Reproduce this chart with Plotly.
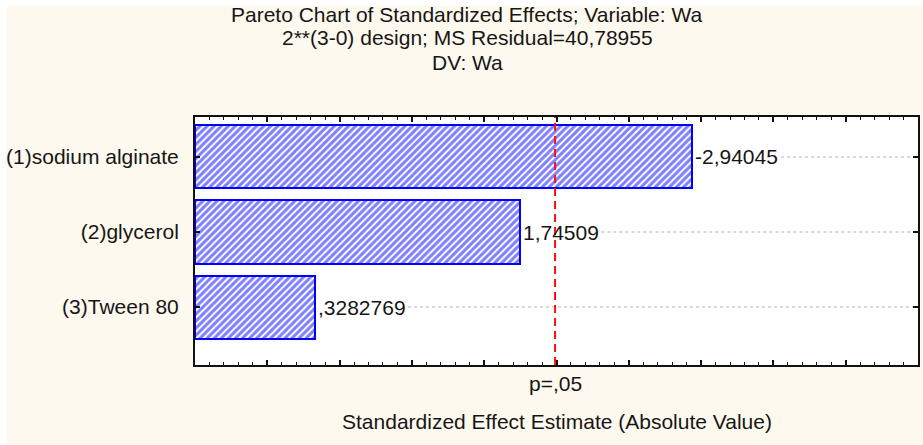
import plotly.graph_objects as go

# Pareto chart of standardized effects (Statistica style)
factors = ["(1)sodium alginate", "(2)glycerol", "(3)Tween 80"]
effects = [-2.94045, 1.74509, 0.3282769]
crit_value = 1.99          # t critical value at p = .05
crit_label = "p=,05"

title_lines = [
    "Pareto Chart of Standardized Effects; Variable: Wa",
    "2**(3-0) design; MS Residual=40,78955",
    "DV: Wa",
]
x_title = "Standardized Effect Estimate (Absolute Value)"

X_MIN, X_MAX = -0.5, 4.5
Y_TOP, Y_BOTTOM = -0.533, 2.773

W, H = 923, 445
M_L, M_R, M_T, M_B = 195, 3, 117, 80
PLOT_W = W - M_L - M_R
PLOT_H = H - M_T - M_B

FONT = "Liberation Sans, Arial, sans-serif"
FS = 21
TXT = "#161616"
CREAM = "#fef9ee"
BLUE = "#0000ff"

ypos = list(range(len(factors)))
abs_eff = [abs(v) for v in effects]


def fmt(v):
    s = repr(v).replace(".", ",")
    if s.startswith("0,"):
        s = s[1:]
    return s


labels = [fmt(v) for v in effects]

# Arial advance widths (em) for the label characters
CW = {",": 0.278, "-": 0.333}


def text_w(s):
    return sum(CW.get(c, 0.556) for c in s) * FS


px_per_unit = PLOT_W / (X_MAX - X_MIN)


def px_y(p):
    return 1 - (p - M_T) / PLOT_H


def px_x(p):
    return (p - M_L) / PLOT_W


fig = go.Figure()

fig.add_trace(go.Bar(
    y=ypos,
    x=[v - X_MIN for v in abs_eff],
    base=X_MIN,
    orientation="h",
    width=0.84,
    marker=dict(
        color="white",
        line=dict(color=BLUE, width=2),
        pattern=dict(shape="/", fgcolor=BLUE, bgcolor="white",
                     size=5, solidity=0.6),
    ),
    hoverinfo="skip",
    showlegend=False,
))

shapes = []
# page background with thin white border at top/left
shapes.append(dict(type="rect", xref="paper", yref="paper",
                   x0=px_x(6), x1=px_x(W + 5), y0=px_y(6), y1=px_y(H + 5),
                   fillcolor=CREAM, line=dict(width=0), layer="below"))
shapes.append(dict(type="rect", xref="paper", yref="paper",
                   x0=0, x1=1, y0=0, y1=1,
                   fillcolor="white", line=dict(width=0), layer="below"))

# dotted guide lines from each value label to the right edge
for y, v, lab in zip(ypos, abs_eff, labels):
    x0 = v + (text_w(lab) + 6) / px_per_unit
    shapes.append(dict(type="line", xref="x", yref="y",
                       x0=x0, x1=X_MAX, y0=y, y1=y,
                       line=dict(color="#b4b4b4", width=1.2, dash="dot"),
                       layer="below"))

# significance threshold
shapes.append(dict(type="line", xref="x", yref="paper",
                   x0=crit_value, x1=crit_value, y0=0, y1=1,
                   line=dict(color="#ff1010", width=2, dash="8px,5px"),
                   layer="above"))

annotations = []
for y, v, lab in zip(ypos, abs_eff, labels):
    annotations.append(dict(x=v, y=y, xref="x", yref="y", text=lab,
                            showarrow=False, xanchor="left", yanchor="middle",
                            xshift=1, font=dict(family=FONT, size=FS, color=TXT)))

for line, yc in zip(title_lines, [15, 38, 62]):
    annotations.append(dict(x=px_x(468), y=px_y(yc), xref="paper", yref="paper",
                            text=line, showarrow=False, xanchor="center",
                            yanchor="middle",
                            font=dict(family=FONT, size=FS, color=TXT)))

annotations.append(dict(x=crit_value, y=px_y(383), xref="x", yref="paper",
                        text=crit_label, showarrow=False, xanchor="center",
                        yanchor="middle",
                        font=dict(family=FONT, size=FS, color=TXT)))
annotations.append(dict(x=0.5, y=px_y(421), xref="paper", yref="paper",
                        text=x_title, showarrow=False, xanchor="center",
                        yanchor="middle",
                        font=dict(family=FONT, size=FS, color=TXT)))

fig.update_layout(
    width=W, height=H,
    margin=dict(l=M_L, r=M_R, t=M_T, b=M_B, pad=0),
    paper_bgcolor="white",
    plot_bgcolor="white",
    shapes=shapes,
    annotations=annotations,
    bargap=0,
    xaxis=dict(
        range=[X_MIN, X_MAX], showgrid=False, zeroline=False,
        showline=True, linecolor="#111", linewidth=2, mirror="ticks",
        ticks="inside", tickcolor="#111", ticklen=5, tickwidth=1.5,
        tick0=X_MIN, dtick=0.5, showticklabels=False,
        minor=dict(ticks="inside", ticklen=3, tickcolor="#111",
                   tickwidth=1.2, dtick=0.1, tick0=X_MIN),
    ),
    yaxis=dict(
        range=[Y_BOTTOM, Y_TOP], showgrid=False, zeroline=False,
        showline=True, linecolor="#111", linewidth=2, mirror="ticks",
        ticks="inside", tickcolor="#111", ticklen=5, tickwidth=1.5,
        tickvals=ypos, ticktext=factors, ticklabelstandoff=10,
        tickfont=dict(family=FONT, size=FS, color=TXT),
    ),
)

fig.write_html("out.html")
